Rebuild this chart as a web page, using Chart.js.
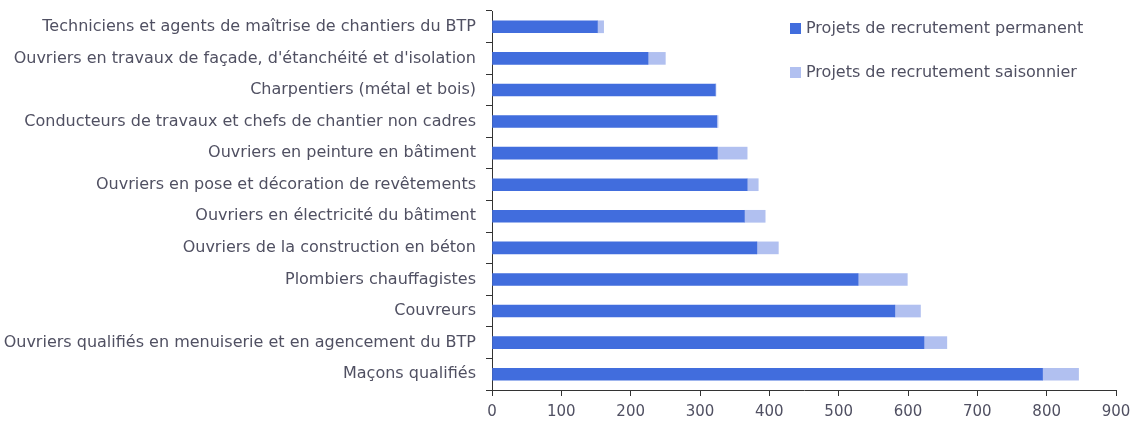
<!DOCTYPE html>
<html>
<head>
<meta charset="utf-8">
<script src="https://cdn.jsdelivr.net/npm/chart.js@4"></script>
<style>
  body { margin: 0; background: #fff; }
  #wrap { position: relative; width: 1133px; height: 424px; }
  .legend { position: absolute; left: 790px; font-family: "DejaVu Sans", sans-serif; font-size: 16px; color: #505062; line-height: 20px; }
  .legend span.box { display: inline-block; width: 11px; height: 11px; margin-right: 5px; vertical-align: -1px; }
</style>
</head>
<body>
<div id="wrap">
  <canvas id="myChart" width="1133" height="424"></canvas>
  <div class="legend" style="top:18px"><span class="box" style="background:#416ddd"></span>Projets de recrutement permanent</div>
  <div class="legend" style="top:62px"><span class="box" style="background:#b1c0f0"></span>Projets de recrutement saisonnier</div>
</div>
<script>
var metiers = [
  "Techniciens et agents de maîtrise de chantiers du BTP",
  "Ouvriers en travaux de façade, d'étanchéité et d'isolation",
  "Charpentiers (métal et bois)",
  "Conducteurs de travaux et chefs de chantier non cadres",
  "Ouvriers en peinture en bâtiment",
  "Ouvriers en pose et décoration de revêtements",
  "Ouvriers en électricité du bâtiment",
  "Ouvriers de la construction en béton",
  "Plombiers chauffagistes",
  "Couvreurs",
  "Ouvriers qualifiés en menuiserie et en agencement du BTP",
  "Maçons qualifiés"
];
var permanent = [152, 225, 322, 324, 325, 368, 364, 382, 528, 581, 623, 794];
var saisonnier = [9, 25, 1, 2, 43, 16, 30, 31, 71, 37, 33, 52];
var xTicks = [0, 100, 200, 300, 400, 500, 600, 700, 800, 900];

Chart.defaults.font.family = '"DejaVu Sans", sans-serif';
Chart.defaults.color = '#505062';

const ctx = document.getElementById('myChart');
new Chart(ctx, {
  type: 'bar',
  data: {
    labels: metiers,
    datasets: [{
      label: 'Projets de recrutement permanent',
      data: permanent,
      backgroundColor: '#416ddd',
      barThickness: 12
    }, {
      label: 'Projets de recrutement saisonnier',
      data: saisonnier,
      backgroundColor: '#b1c0f0',
      barThickness: 12
    }]
  },
  options: {
    indexAxis: 'y',
    responsive: false,
    animation: false,
    layout: { padding: { top: 11, right: 17, left: 4, bottom: 1 } },
    plugins: {
      legend: { display: false },
      tooltip: { enabled: false }
    },
    scales: {
      x: {
        stacked: true,
        min: 0,
        max: 900,
        afterBuildTicks: function(axis) {
          axis.ticks = xTicks.map(function(v) { return { value: v }; });
        },
        afterFit: function(axis) {
          axis.height = 33;
          axis.paddingLeft = 0;
          axis.paddingRight = 0;
        },
        grid: { drawOnChartArea: false, color: '#333', tickLength: 6 },
        border: { color: '#333' },
        ticks: { font: { size: 15 }, padding: 7 }
      },
      y: {
        stacked: true,
        afterFit: function(axis) {
          axis.width = 488;
          axis.paddingTop = 0;
          axis.paddingBottom = 0;
        },
        grid: { drawOnChartArea: false, color: '#333', tickLength: 6, offset: true },
        border: { color: '#333' },
        ticks: { font: { size: 16 }, padding: 10 }
      }
    }
  }
});
</script>
</body>
</html>
